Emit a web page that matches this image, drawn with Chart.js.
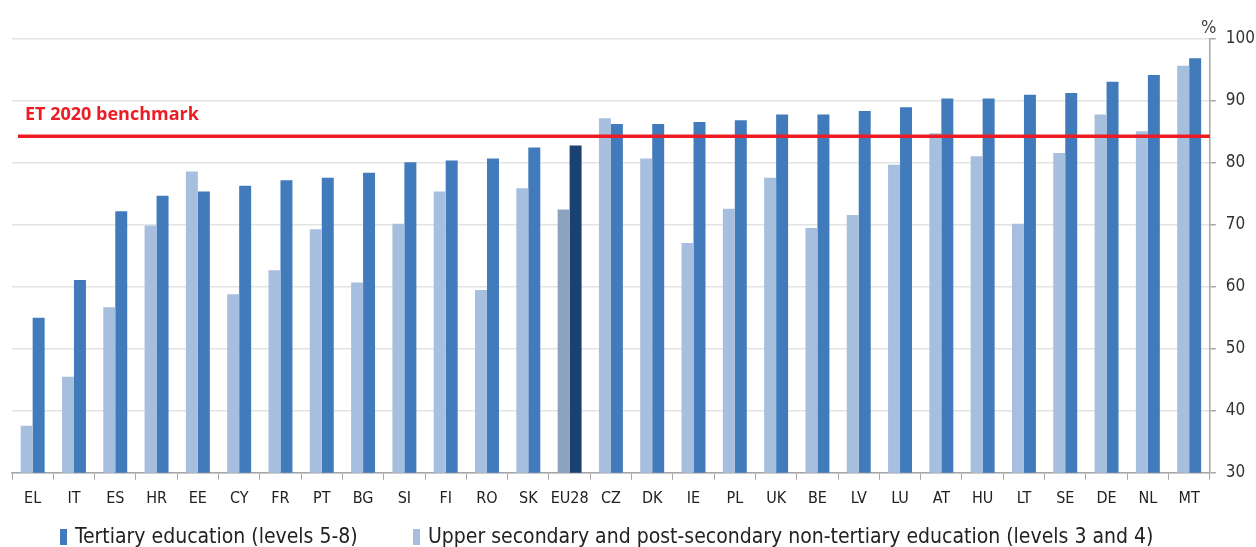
<!DOCTYPE html>
<html>
<head>
<meta charset="utf-8">
<script src="https://cdn.jsdelivr.net/npm/chart.js@4.4.1/dist/chart.umd.min.js"></script>
<style>
html,body{margin:0;padding:0;background:#fff;}
#wrap{width:1256px;height:547px;position:relative;}
</style>
</head>
<body>
<div id="wrap"><canvas id="c" width="1256" height="547"></canvas></div>
<script>
const categories = ["EL","IT","ES","HR","EE","CY","FR","PT","BG","SI","FI","RO","SK","EU28","CZ","DK","IE","PL","UK","BE","LV","LU","AT","HU","LT","SE","DE","NL","MT"];
const tertiary = [55.0,61.1,72.2,74.7,75.4,76.3,77.2,77.6,78.4,80.1,80.4,80.7,82.5,82.8,86.3,86.3,86.6,86.9,87.8,87.8,88.4,89.0,90.4,90.4,91.0,91.3,93.1,94.2,96.9];
const upperSecondary = [37.6,45.5,56.7,69.9,78.6,58.8,62.7,69.3,60.7,70.2,75.4,59.5,75.9,72.5,87.2,80.7,67.1,72.6,77.6,69.5,71.6,79.7,84.8,81.1,70.2,81.6,87.8,85.1,95.7];
const benchmark = 84.3;
const benchmarkLabel = "ET 2020 benchmark";
const yTicks = [30,40,50,60,70,80,90,100];
const seriesNames = ["Upper secondary and post-secondary non-tertiary education (levels 3 and 4)", "Tertiary education (levels 5-8)"];
const highlight = "EU28";

const FONT = "'DejaVu Sans Condensed','Liberation Sans Narrow','Arial Narrow','Liberation Sans',sans-serif";
const DARK = '#427BBB', LIGHT = '#A7BFDE';
const darkCol = categories.map(c => c === highlight ? '#1B4173' : DARK);
const lightCol = categories.map(c => c === highlight ? '#8DA2BD' : LIGHT);

const benchPlugin = {
  id: 'bench',
  afterDatasetsDraw(chart) {
    const {ctx, scales:{y}, chartArea} = chart;
    const py = y.getPixelForValue(benchmark);
    ctx.save();
    ctx.strokeStyle = '#ED1C24';
    ctx.lineWidth = 3.5;
    ctx.beginPath();
    ctx.moveTo(chartArea.left + 6, py);
    ctx.lineTo(chartArea.right, py);
    ctx.stroke();
    ctx.fillStyle = '#ED1C24';
    ctx.font = "bold 18px 'Open Sans','Liberation Sans',sans-serif";
    ctx.textBaseline = 'alphabetic';
    ctx.fillText(benchmarkLabel, chartArea.left + 13, py - 16);
    ctx.fillStyle = '#404040';
    ctx.font = "18px " + FONT;
    ctx.textAlign = 'center';
    ctx.fillText('%', chartArea.right - 1, chartArea.top - 6);
    ctx.restore();
  },
  afterDraw(chart) {
    const {ctx} = chart;
    // legend (drawn in the reference order: tertiary first)
    const items = [[seriesNames[1], DARK, 60], [seriesNames[0], LIGHT, 413]];
    ctx.save();
    ctx.font = "21px " + FONT;
    ctx.textBaseline = 'middle';
    const cy = 537;
    items.forEach(([t, col, x]) => {
      ctx.fillStyle = col;
      ctx.fillRect(x, cy - 8, 7, 16);
      ctx.fillStyle = '#222';
      ctx.fillText(t, x + 15, cy + 1);
    });
    ctx.restore();
  }
};

new Chart(document.getElementById('c'), {
  type: 'bar',
  data: {
    labels: categories,
    datasets: [
      {label: seriesNames[0], data: upperSecondary, backgroundColor: lightCol, borderWidth: 0},
      {label: seriesNames[1], data: tertiary, backgroundColor: darkCol, borderWidth: 0}
    ]
  },
  options: {
    responsive: false,
    animation: false,
    devicePixelRatio: 1,
    layout: {padding: {left: 12, right: -9, top: 39, bottom: 30}},
    datasets: {bar: {barPercentage: 1.0, categoryPercentage: 0.58}},
    plugins: {
      tooltip: {enabled: false},
      legend: {display: false}
    },
    scales: {
      x: {
        grid: {display: true, offset: true, drawOnChartArea: false, color: '#A6A6A6', tickLength: 7},
        border: {display: true, color: '#A6A6A6', width: 1.5},
        ticks: {color: '#222', font: {family: FONT, size: 16}, padding: 9, maxRotation: 0, autoSkip: false}
      },
      y: {
        position: 'right',
        min: 30, max: 100,
        afterBuildTicks(axis) { axis.ticks = yTicks.map(v => ({value: v})); },
        grid: {color: '#E3E3E3', lineWidth: 1.5, tickLength: 6, tickColor: '#A6A6A6'},
        border: {display: true, color: '#A6A6A6', width: 1.5},
        ticks: {color: '#333', font: {family: FONT, size: 17}, padding: 10}
      }
    }
  },
  plugins: [benchPlugin]
});
</script>
</body>
</html>
